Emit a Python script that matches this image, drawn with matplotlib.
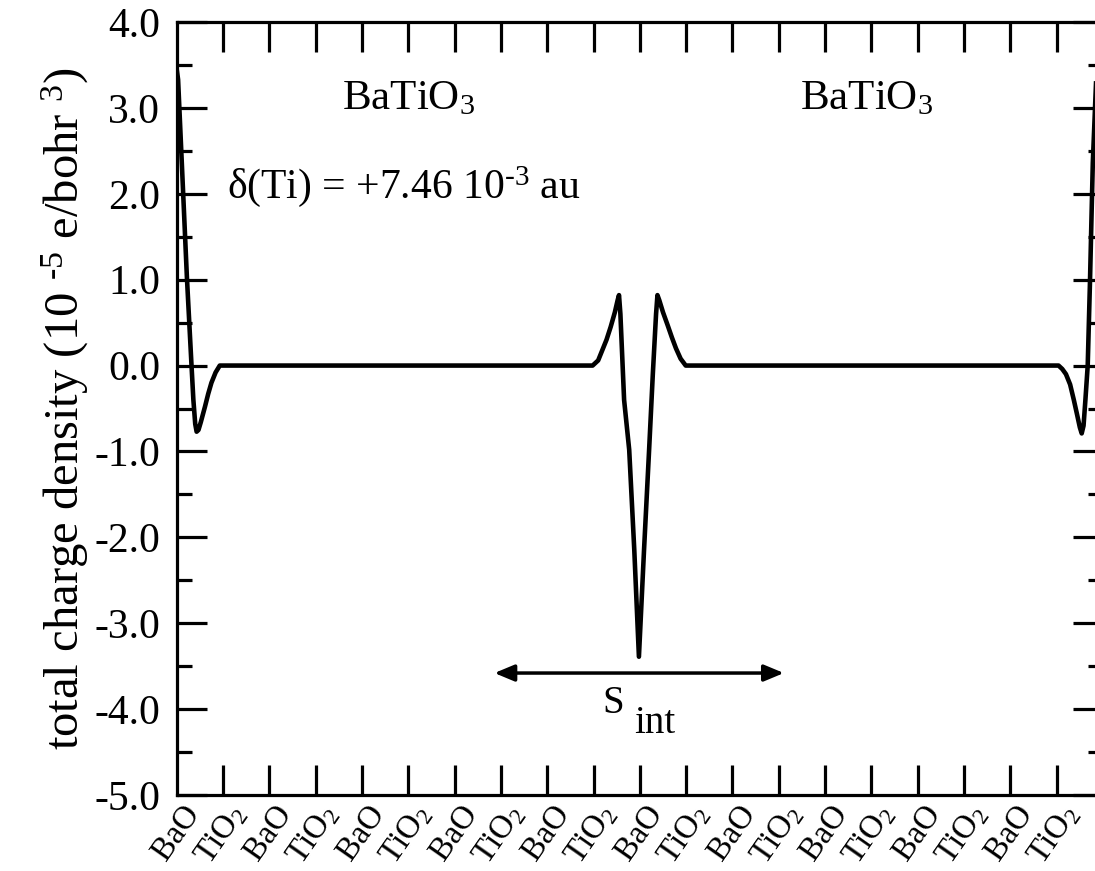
import numpy as np
import matplotlib
matplotlib.use("Agg")
import matplotlib.pyplot as plt
import matplotlib.transforms as mtransforms
from matplotlib.ticker import MultipleLocator, FixedLocator


# ===== DATA =====
# position along the slab, in layer units (one unit = one BaO or TiO2 plane)
pos = [0.00, 0.03, 0.14, 0.22, 0.32, 0.36, 0.40, 0.43, 0.47, 0.52, 0.61,
       0.68, 0.75, 0.84, 0.93,
       8.98, 9.10, 9.19, 9.28, 9.37, 9.46, 9.52, 9.55, 9.58, 9.66, 9.77,
       9.88, 9.98, 10.09, 10.20, 10.28, 10.35, 10.38, 10.42, 10.50, 10.60,
       10.69, 10.78, 10.88, 10.99,
       19.04, 19.12, 19.20, 19.29, 19.37, 19.44, 19.50, 19.54, 19.58,
       19.62, 19.67, 19.72, 19.75, 19.78, 19.85, 20.00]
rho = [3.45, 3.33, 2.00, 1.03, 0.00, -0.40, -0.68, -0.77, -0.75, -0.66, -0.48,
       -0.33, -0.20, -0.08, 0.00,
       0.00, 0.06, 0.18, 0.30, 0.45, 0.62, 0.76, 0.82, 0.60, -0.40, -0.98,
       -2.15, -3.39, -2.15, -0.98, -0.10, 0.60, 0.82, 0.76, 0.62, 0.47,
       0.33, 0.20, 0.08, 0.00,
       0.00, -0.04, -0.10, -0.22, -0.40, -0.57, -0.72, -0.79, -0.70,
       -0.40, 0.00, 1.00, 1.69, 2.36, 3.30, 3.60]

layer_labels = ["BaO", "TiO$_2$"] * 10
layer_centers = [i + 0.5 for i in range(20)]
layer_bounds = list(range(1, 20))

arrow_span = (6.86, 13.11)
arrow_y = -3.58


# ===== STYLE =====
plt.rcParams["font.family"] = ["Liberation Serif", "DejaVu Serif"]
plt.rcParams["mathtext.fontset"] = "custom"
plt.rcParams["mathtext.rm"] = "Liberation Serif"
plt.rcParams["mathtext.it"] = "Liberation Serif:italic"
plt.rcParams["mathtext.default"] = "rm"
plt.rcParams["axes.unicode_minus"] = False

fig = plt.figure(figsize=(10.95, 8.71), dpi=100)
ax = fig.add_axes([176.7 / 1095, 76 / 871, (1103 - 176.7) / 1095, 773 / 871])

ax.plot(pos, rho, color="black", lw=3.3, solid_joinstyle="round")

ax.set_xlim(0, 20)
ax.set_ylim(-5, 4)

# ===== AXES / TICKS =====
for s in ax.spines.values():
    s.set_linewidth(2.3)

ax.xaxis.set_major_locator(FixedLocator(layer_bounds))
ax.xaxis.set_minor_locator(FixedLocator(layer_centers))
ax.set_xticklabels([], minor=False)
ax.set_xticklabels(layer_labels, minor=True, rotation=55,
                   ha="right", va="top", fontsize=23.5)
ax.tick_params(axis="x", which="minor", length=0, pad=3)
shift = mtransforms.ScaledTranslation(6 / 100, 0, fig.dpi_scale_trans)
for lab in ax.get_xticklabels(minor=True):
    lab.set_transform(lab.get_transform() + shift)

ax.set_yticks(np.arange(-5, 4.01, 1.0))
ax.set_yticklabels([f"{v:.1f}" for v in np.arange(-5, 4.01, 1.0)])
ax.yaxis.set_minor_locator(MultipleLocator(0.5))

ax.tick_params(axis="both", which="major", direction="in", length=21.5,
               width=2.3, top=True, right=True)
ax.tick_params(axis="y", which="minor", direction="in", length=10.8,
               width=2.3, right=True)
ax.tick_params(axis="y", which="major", labelsize=30, pad=12)

ax.set_ylabel(r"total charge density (10 $^{\text{-}5}$ e/bohr $^{3}$)",
              fontsize=35, labelpad=2)

# ===== ANNOTATIONS =====
ax.text(5.0, 3.10, "BaTiO$_3$", fontsize=31, ha="center", va="center")
ax.text(14.9, 3.10, "BaTiO$_3$", fontsize=31, ha="center", va="center")
ax.text(1.08, 2.08, r"δ(Ti) = +7.46 10$^{\text{-}3}$ au", fontsize=30,
        ha="left", va="center")

ax.annotate("", xy=(arrow_span[0], arrow_y), xytext=(arrow_span[1], arrow_y),
            arrowprops=dict(arrowstyle="<|-|>,head_length=1.2,head_width=0.5",
                            color="black", lw=2.5, shrinkA=0, shrinkB=0))
ax.text(9.43, -3.93, "S", fontsize=28, ha="center", va="center")
ax.text(10.31, -4.17, "int", fontsize=28, ha="center", va="center")

plt.savefig("out.png", dpi=100)
